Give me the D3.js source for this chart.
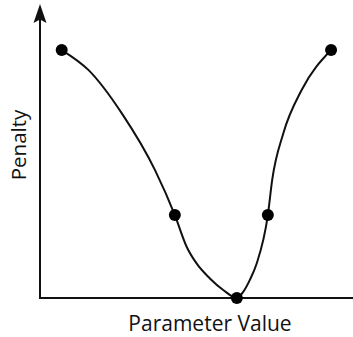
<!DOCTYPE html>
<html>
<head>
<meta charset="utf-8">
<script src="https://cdn.jsdelivr.net/npm/d3@7"></script>
<style>
  body { margin: 0; background: #fff; }
  text { font-family: "Open Sans", "Noto Sans", sans-serif; fill: #111; }
</style>
</head>
<body>
<div id="chart"></div>
<script>
// marked points on the penalty curve
const markParams = [7, 43.5, 63.5, 73.5, 93.9];
const markPenalty = [86.1, 28.8, 0, 28.8, 86.1];

// penalty curve
const curveParams = [7, 15.6, 26.4, 37.1, 43.5, 47.3, 50.5, 54.8, 59.1, 63.5,
                     65.6, 67.7, 69.9, 73.5, 74.9, 78.5, 84.4, 93.9];
const curvePenalty = [86.1, 79.2, 64.1, 44.4, 28.8, 17.8, 12.0, 6.8, 2.8, 0,
                      2.2, 6.3, 12.0, 28.8, 41.0, 57.2, 72.2, 86.1];

const xLabel = "Parameter Value";
const yLabel = "Penalty";

const width = 353, height = 337;
const margin = { top: 10, right: 3, bottom: 39, left: 40 };

const svg = d3.select("#chart")
  .append("svg")
    .attr("width", width)
    .attr("height", height);

const x = d3.scaleLinear()
  .domain([0, 100])
  .range([margin.left, 350]);

const y = d3.scaleLinear()
  .domain([0, 100])
  .range([height - margin.bottom, margin.top]);

const marks = markParams.map((p, i) => ({ p: p, v: markPenalty[i] }));
const curve = curveParams.map((p, i) => ({ p: p, v: curvePenalty[i] }));

// y axis with arrow head
const axisTop = 4;
svg.append("line")
    .attr("x1", x(0)).attr("x2", x(0))
    .attr("y1", y(0)).attr("y2", axisTop + 14)
    .attr("stroke", "#111")
    .attr("stroke-width", 2);

svg.append("path")
    .attr("d", `M${x(0)},${axisTop} L${x(0) + 6.5},${axisTop + 19} L${x(0)},${axisTop + 15.5} L${x(0) - 6.5},${axisTop + 19} Z`)
    .attr("fill", "#111");

// x axis
svg.append("line")
    .attr("x1", x(0) - 1).attr("x2", width)
    .attr("y1", y(0)).attr("y2", y(0))
    .attr("stroke", "#111")
    .attr("stroke-width", 2);

// the curve
const line = d3.line()
  .x(d => x(d.p))
  .y(d => y(d.v))
  .curve(d3.curveMonotoneX);

svg.append("path")
    .datum(curve)
    .attr("d", line)
    .attr("fill", "none")
    .attr("stroke", "#111")
    .attr("stroke-width", 2);

// points
svg.selectAll("circle")
  .data(marks)
  .join("circle")
    .attr("cx", d => x(d.p))
    .attr("cy", d => y(d.v))
    .attr("r", 6)
    .attr("fill", "#000");

// labels
svg.append("text")
    .attr("x", 210)
    .attr("y", 331)
    .attr("text-anchor", "middle")
    .style("font-size", "21px")
    .text(xLabel);

svg.append("text")
    .attr("transform", `translate(26, 145) rotate(-90)`)
    .attr("text-anchor", "middle")
    .style("font-size", "20.5px")
    .text(yLabel);
</script>
</body>
</html>
